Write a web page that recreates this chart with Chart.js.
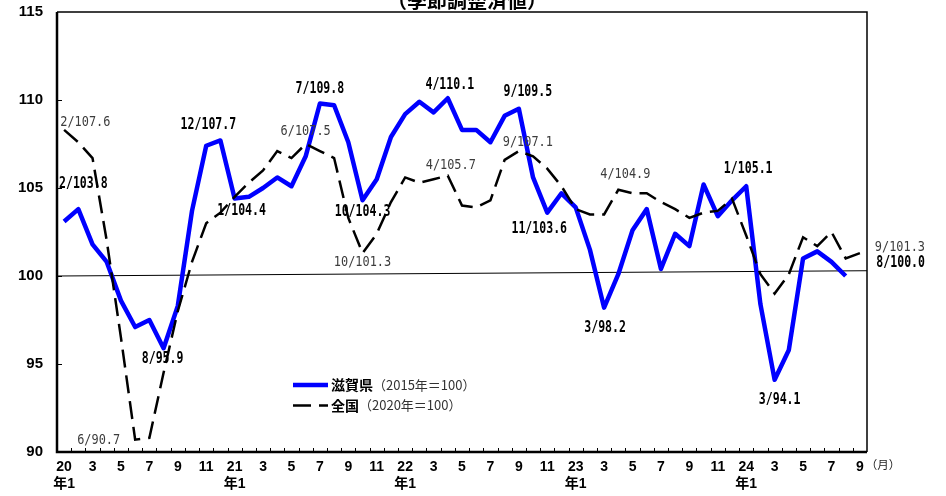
<!DOCTYPE html>
<html>
<head>
<meta charset="utf-8">
<script src="https://cdn.jsdelivr.net/npm/chart.js@4/dist/chart.umd.min.js"></script>
<style>
  html, body { margin: 0; padding: 0; background: #fff; }
  canvas { display: block; }
</style>
</head>
<body>
<canvas id="chart" width="946" height="496"></canvas>
<script>
// Months on the horizontal axis (year/month)
const categories = [
  '2020/1','2020/2','2020/3','2020/4','2020/5','2020/6','2020/7','2020/8','2020/9','2020/10','2020/11','2020/12',
  '2021/1','2021/2','2021/3','2021/4','2021/5','2021/6','2021/7','2021/8','2021/9','2021/10','2021/11','2021/12',
  '2022/1','2022/2','2022/3','2022/4','2022/5','2022/6','2022/7','2022/8','2022/9','2022/10','2022/11','2022/12',
  '2023/1','2023/2','2023/3','2023/4','2023/5','2023/6','2023/7','2023/8','2023/9','2023/10','2023/11','2023/12',
  '2024/1','2024/2','2024/3','2024/4','2024/5','2024/6','2024/7','2024/8','2024/9'
];

// 滋賀県 industrial production index (2015 = 100), seasonally adjusted
const shigaIndex = [
  103.1, 103.8, 101.8, 100.8, 98.6, 97.1, 97.5, 95.9, 98.3, 103.7, 107.4, 107.7,
  104.4, 104.5, 105.0, 105.6, 105.1, 106.8, 109.8, 109.7, 107.6, 104.3, 105.5, 107.9,
  109.2, 109.9, 109.3, 110.1, 108.3, 108.3, 107.6, 109.1, 109.5, 105.6, 103.6, 104.7,
  103.9, 101.5, 98.2, 100.1, 102.6, 103.8, 100.4, 102.4, 101.7, 105.2, 103.4, 104.3,
  105.1, 98.4, 94.1, 95.8, 101.0, 101.4, 100.8, 100.0
];

// 全国 industrial production index (2020 = 100), seasonally adjusted
const nationalIndex = [
  108.3, 107.6, 106.7, 102.0, 96.5, 90.7, 90.8, 94.5, 98.0, 100.8, 103.0, 103.6,
  104.5, 105.3, 106.0, 107.1, 106.7, 107.5, 107.1, 106.7, 103.3, 101.3, 102.4, 104.2,
  105.6, 105.3, 105.5, 105.7, 104.0, 103.9, 104.3, 106.6, 107.1, 106.8, 106.1, 105.1,
  103.8, 103.5, 103.5, 104.9, 104.7, 104.7, 104.2, 103.8, 103.3, 103.6, 103.7, 104.4,
  102.3, 100.1, 99.0, 100.1, 102.2, 101.7, 102.5, 101.0, 101.3
];

// Vertical axis ticks
const yTicks = [90, 95, 100, 105, 110, 115];

// Thin reference line across the plot (value at left edge, value at right edge)
const baseLine = [100.0, 100.3];

const titleText = '（季節調整済値）';
const seriesNames = ['滋賀県', '全国'];
const seriesBases = ['（2015年＝100）', '（2020年＝100）'];
const monthUnit = '（月）';

// Value callouts: [category index, label offset x, label offset y]
const shigaCallouts = [
  [1, 5, -25], [7, -1, 11], [11, -12, -15.5], [12, 7, 12.5], [18, 0, -14.5],
  [21, 0, 12], [27, 2, -13], [32, 9, -17], [34, -8, 16.5], [38, 1, 20],
  [48, 2, -17.5], [50, 5, 20], [55, 55, -12.5]
];
const nationalCallouts = [
  [1, 7, -20], [5, -36.5, 1], [17, 0, -12.7], [21, 0, 9.5], [27, 3, -10],
  [32, 9, -8.7], [39, 7, -15], [56, 40, -6]
];

const BLUE = '#0000ff';
const LATIN = "'Liberation Sans', 'Noto Sans CJK JP', sans-serif";
const CJK = "'Noto Sans CJK JP', sans-serif";

// Narrow monospaced text, drawn with a horizontal squeeze
function narrowText(ctx, text, x, y, font, color, squeeze) {
  ctx.save();
  ctx.font = font;
  ctx.fillStyle = color;
  ctx.textAlign = 'center';
  ctx.textBaseline = 'middle';
  ctx.translate(x, y);
  ctx.scale(squeeze, 1);
  ctx.fillText(text, 0, 0);
  ctx.restore();
}

function calloutText(i, v) {
  return categories[i].split('/')[1] + '/' + v.toFixed(1);
}

const decorations = {
  id: 'decorations',
  beforeDatasetsDraw(chart) {
    const { ctx, chartArea: a, scales: { y } } = chart;
    ctx.save();
    ctx.strokeStyle = '#000';
    ctx.lineWidth = 1;
    ctx.beginPath();
    ctx.moveTo(a.left, y.getPixelForValue(baseLine[0]));
    ctx.lineTo(a.right, y.getPixelForValue(baseLine[1]));
    ctx.stroke();
    ctx.restore();
  },
  afterDatasetsDraw(chart) {
    const { ctx } = chart;
    const shigaMeta = chart.getDatasetMeta(0);
    const natMeta = chart.getDatasetMeta(1);

    nationalCallouts.forEach(([i, dx, dy]) => {
      const p = natMeta.data[i];
      narrowText(ctx, calloutText(i, nationalIndex[i]), p.x + dx, p.y + dy,
        "14px 'DejaVu Sans Mono'", '#3c3c3c', 0.85);
    });
    shigaCallouts.forEach(([i, dx, dy]) => {
      const p = shigaMeta.data[i];
      narrowText(ctx, calloutText(i, shigaIndex[i]), p.x + dx, p.y + dy,
        "bold 15px 'DejaVu Sans Mono'", '#000', 0.77);
    });
  },
  afterDraw(chart) {
    const { ctx, chartArea: a, scales: { x, y } } = chart;
    ctx.save();

    // plot frame
    ctx.strokeStyle = '#000';
    ctx.lineWidth = 1.5;
    ctx.beginPath();
    ctx.moveTo(a.left, a.top); ctx.lineTo(a.right, a.top); ctx.lineTo(a.right, a.bottom);
    ctx.stroke();
    ctx.lineWidth = 2.5;
    ctx.beginPath();
    ctx.moveTo(a.left, a.top); ctx.lineTo(a.left, a.bottom); ctx.lineTo(a.right, a.bottom);
    ctx.stroke();

    // inward tick marks
    ctx.lineWidth = 1;
    ctx.beginPath();
    for (let i = 0; i < categories.length - 1; i++) {
      const bx = Math.round((x.getPixelForValue(i) + x.getPixelForValue(i + 1)) / 2) + 0.5;
      ctx.moveTo(bx, a.bottom); ctx.lineTo(bx, a.bottom - 4);
    }
    yTicks.forEach(v => {
      if (v === yTicks[0] || v === yTicks[yTicks.length - 1]) return;
      const ty = Math.round(y.getPixelForValue(v)) + 0.5;
      ctx.moveTo(a.left, ty); ctx.lineTo(a.left + 5, ty);
    });
    ctx.stroke();

    // title
    ctx.fillStyle = '#000';
    ctx.font = 'bold 20px ' + CJK;
    ctx.textAlign = 'center';
    ctx.textBaseline = 'middle';
    ctx.fillText(titleText, 467, 0);

    // month unit after the last tick label
    ctx.font = '11.5px ' + CJK;
    ctx.fillStyle = '#222';
    ctx.fillText(monthUnit, a.right + 16, 465);

    // legend
    const lx = 293, rows = [385, 405.5];
    ctx.lineWidth = 4.5;
    ctx.strokeStyle = BLUE;
    ctx.beginPath(); ctx.moveTo(lx, rows[0]); ctx.lineTo(lx + 35, rows[0]); ctx.stroke();
    ctx.lineWidth = 2.5;
    ctx.strokeStyle = '#000';
    ctx.setLineDash([18, 8]);
    ctx.beginPath(); ctx.moveTo(lx, rows[1]); ctx.lineTo(lx + 35, rows[1]); ctx.stroke();
    ctx.setLineDash([]);
    ctx.textAlign = 'left';
    seriesNames.forEach((name, k) => {
      ctx.font = 'bold 14px ' + CJK;
      ctx.fillStyle = '#000';
      ctx.fillText(name, lx + 38, rows[k]);
      const w = ctx.measureText(name).width;
      ctx.font = '13px ' + CJK;
      ctx.fillStyle = '#333';
      ctx.fillText(seriesBases[k], lx + 38 + w, rows[k]);
    });
    ctx.restore();
  }
};

new Chart(document.getElementById('chart'), {
  type: 'line',
  data: {
    labels: categories,
    datasets: [
      {
        label: seriesNames[0],
        data: shigaIndex,
        borderColor: BLUE,
        borderWidth: 4.5,
        borderJoinStyle: 'round',
        pointRadius: 0,
        tension: 0,
        fill: false,
        order: 1
      },
      {
        label: seriesNames[1],
        data: nationalIndex,
        borderColor: '#000',
        borderWidth: 2.5,
        borderDash: [18, 8],
        pointRadius: 0,
        tension: 0,
        fill: false,
        order: 0
      }
    ]
  },
  options: {
    responsive: false,
    animation: false,
    devicePixelRatio: 1,
    layout: { padding: { top: 12, right: 79, left: 0, bottom: 0 } },
    plugins: {
      legend: { display: false },
      title: { display: false },
      tooltip: { enabled: false }
    },
    scales: {
      x: {
        type: 'category',
        offset: true,
        grid: { display: false, drawTicks: false },
        border: { display: false },
        afterFit(scale) { scale.height = 44; },
        ticks: {
          autoSkip: false,
          maxRotation: 0,
          minRotation: 0,
          padding: 7,
          color: '#000',
          font: { family: LATIN, size: 14, weight: 'bold', lineHeight: 1.2 },
          callback(value, index) {
            const [yr, m] = categories[index].split('/');
            if (m === '1') return [yr.slice(2), '年1'];
            return (Number(m) % 2 === 1) ? m : '';
          }
        }
      },
      y: {
        min: yTicks[0],
        max: yTicks[yTicks.length - 1],
        grid: { display: false, drawTicks: false },
        border: { display: false },
        afterFit(scale) {
          scale.width = 57;
          scale.paddingTop = 0;
          scale.paddingBottom = 0;
        },
        afterBuildTicks(scale) { scale.ticks = yTicks.map(v => ({ value: v })); },
        ticks: {
          padding: 14,
          color: '#000',
          font: { family: LATIN, size: 15, weight: 'bold' }
        }
      }
    }
  },
  plugins: [decorations]
});
</script>
</body>
</html>
